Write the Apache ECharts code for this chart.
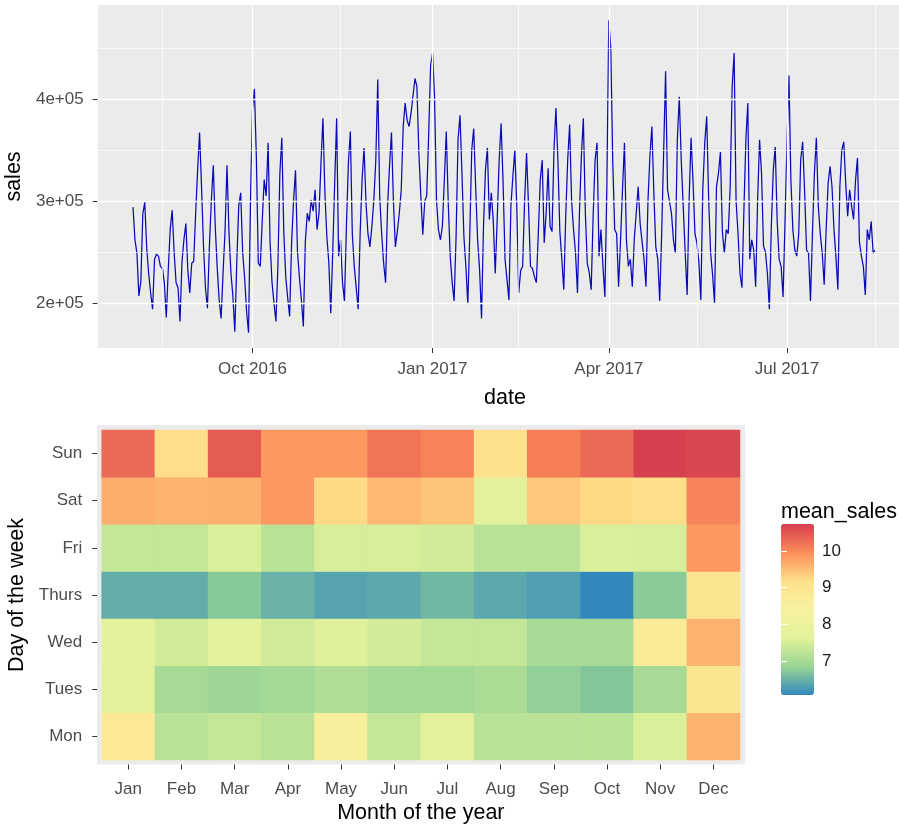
<!DOCTYPE html>
<html><head><meta charset="utf-8">
<script src="https://cdn.jsdelivr.net/npm/echarts@6/dist/echarts.min.js"></script>
<style>html,body{margin:0;padding:0;background:#fff}#c{width:899px;height:824px}</style>
</head><body><div id="c"></div>
<script>
// ---------- line chart data (daily sales, thousands) ----------
const startDate = '2016-08-01';
const salesK = [
 294,262,249,207,221,287,299,
 254,229,210,194,243,248,246,
 236,234,220,186,232,272,291,
 250,220,215,182,240,262,278,
 232,210,239,241,288,330,367,
 314,256,215,195,255,300,335,
 275,235,203,185,230,270,335,
 270,230,207,172,240,295,308,
 250,225,192,171,300,389,410,
 343,239,236,280,321,305,357,
 260,220,200,182,236,327,362,
 270,226,205,187,259,300,330,
 250,225,203,177,260,288,280,
 301,290,311,272,288,337,381,
 308,265,240,190,250,317,381,
 246,262,220,202,275,337,368,
 268,236,236,194,268,321,352,
 298,268,255,275,301,340,419,
 304,268,239,220,294,334,367,
 300,255,270,288,311,373,396,
 379,373,386,385,420,412,347,
 305,267,300,305,365,433,445,
 402,301,272,262,275,320,368,
 298,246,220,202,265,360,384,
 327,265,236,199,268,350,371,
 314,262,233,185,275,330,352,
 282,308,280,229,282,340,376,
 319,243,223,203,295,324,350,
 295,210,232,236,300,347,295,
 236,234,226,220,268,321,340,
 259,288,332,275,270,350,391,
 340,270,243,213,285,340,375,
 300,272,249,210,288,344,381,
 290,239,230,213,285,340,357,
 246,272,236,206,314,477,450,
 340,272,268,216,262,311,357,
 262,236,243,216,262,288,314,
 278,260,243,216,300,344,373,
 308,255,243,202,268,347,427,
 311,311,288,262,249,360,402,
 340,295,250,208,300,362,320,
 268,259,240,203,311,357,383,
 301,249,228,200,314,327,348,
 270,249,272,268,314,412,445,
 300,268,229,215,291,360,396,
 243,262,252,216,301,360,327,
 256,250,229,194,275,330,353,
 280,243,236,206,280,357,423,
 320,272,252,246,268,340,358,
 310,252,249,202,268,327,362,
 295,268,249,218,272,317,334,
 314,272,245,213,314,350,358,
 317,285,311,295,282,320,342,
 260,246,236,208,272,262,280,
 249,252
];
const dateTicks = ['2016-10-01','2017-01-01','2017-04-01','2017-07-01'];
const dateTickLabels = ['Oct 2016','Jan 2017','Apr 2017','Jul 2017'];
const dateMinorLines = ['2016-08-16','2016-11-15','2017-02-14','2017-05-16','2017-08-15'];
const salesTicks = [200000,300000,400000];
const salesTickLabels = ['2e+05','3e+05','4e+05'];
const salesMinorLines = [250000,350000,450000];

// ---------- heatmap data (mean_sales) ----------
const months = ['Jan','Feb','Mar','Apr','May','Jun','Jul','Aug','Sep','Oct','Nov','Dec'];
const weekDays = ['Mon','Tues','Wed','Thurs','Fri','Sat','Sun'];
const meanMon   = [8.8, 7.2, 7.3, 7.2, 8.55,7.3, 7.65,7.2, 7.2, 7.2, 7.55,9.6];
const meanTues  = [7.65,7.0, 6.9, 6.95,7.1, 6.95,6.95,7.05,6.8, 6.7, 7.0, 8.95];
const meanWed   = [7.7, 7.45,7.65,7.45,7.6, 7.45,7.3, 7.3, 7.0, 7.0, 8.7, 9.6];
const meanThurs = [6.45,6.45,6.72,6.5, 6.35,6.4, 6.55,6.4, 6.3, 6.08,6.75,8.95];
const meanFri   = [7.3, 7.3, 7.55,7.2, 7.5, 7.5, 7.45,7.2, 7.2, 7.55,7.5, 9.85];
const meanSat   = [9.65,9.6, 9.62,9.85,9.25,9.55,9.45,7.65,9.4, 9.25,9.2, 10.05];
const meanSun   = [10.3,9.2, 10.45,9.85,9.85,10.2,10.05,9.15,10.1,10.3,10.7,10.65];
const colorMin = 6.08, colorMax = 10.73;
const legendTicks = [7,8,9,10];
const spectral = ['#3288BD','#99D594','#E2F29A','#F7F2A0','#FEE08B','#FC8D59','#D53E4F'];

const DAY = 86400000;
const t0 = Date.parse(startDate);
const FONT = 'Liberation Sans, Arial, sans-serif';
const lineData = salesK.map((v,i) => [t0 + i*DAY, v*1000]);
const tickTs = dateTicks.map(d => Date.parse(d));
const rows = [meanMon, meanTues, meanWed, meanThurs, meanFri, meanSat, meanSun];
const heatData = [];
rows.forEach((r, ri) => r.forEach((v, mi) => heatData.push([mi, ri, v])));

const gridLines = [];
tickTs.forEach(t => gridLines.push({xAxis: t, lineStyle:{color:'#fff', width:1.3, type:'solid'}}));
dateMinorLines.forEach(d => gridLines.push({xAxis: Date.parse(d), lineStyle:{color:'#fff', width:0.7, type:'solid'}}));
salesTicks.forEach(v => gridLines.push({yAxis: v, lineStyle:{color:'#fff', width:1.3, type:'solid'}}));
salesMinorLines.forEach(v => gridLines.push({yAxis: v, lineStyle:{color:'#fff', width:0.7, type:'solid'}}));

const tickStyle = {color:'#333333', width:1};
const labStyle = {color:'#4D4D4D', fontSize:17, fontFamily:FONT};
const nameStyle = {color:'#000', fontSize:21.5, fontFamily:FONT};

const chart = echarts.init(document.getElementById('c'), null, {renderer:'canvas'});
chart.setOption({
  animation: false,
  backgroundColor: '#fff',
  title: {text:'mean_sales', left:781, top:501, padding:0,
          textStyle:{fontSize:21.5, fontWeight:'normal', color:'#000', fontFamily:FONT}},
  grid: [
    {left:97.7, top:5, width:814.5, height:343, show:true, backgroundColor:'#EBEBEB', borderWidth:0,
     containLabel:false, outerBoundsMode:'none'},
    {left:101.7, top:430, width:638.3, height:330, containLabel:false, outerBoundsMode:'none'},
    {left:97, top:425, width:648, height:339.5, show:true, backgroundColor:'#EBEBEB', borderWidth:0,
     containLabel:false, outerBoundsMode:'none'},
    {left:781, top:524, width:33, height:171, containLabel:false, outerBoundsMode:'none'}
  ],
  xAxis: [
    {type:'value', gridIndex:0, min: t0 - 18.03*DAY, max: t0 + 397.95*DAY,
     axisLine:{show:false}, splitLine:{show:false},
     axisTick:{show:true, customValues:tickTs, length:5, lineStyle:tickStyle},
     axisLabel:Object.assign({customValues:tickTs, margin:12.5,
       formatter: v => dateTickLabels[tickTs.indexOf(v)]}, labStyle),
     name:'date', nameLocation:'middle', nameGap:39, nameTextStyle:nameStyle},
    {type:'category', gridIndex:1, data:months, offset:4.5,
     axisLine:{show:false}, splitLine:{show:false},
     axisTick:{show:true, alignWithLabel:true, length:5, lineStyle:tickStyle},
     axisLabel:Object.assign({margin:16}, labStyle),
     name:'Month of the year', nameLocation:'middle', nameGap:38, nameTextStyle:nameStyle},
    {type:'value', gridIndex:2, show:false, min:0, max:1},
    {type:'value', gridIndex:3, show:false, min:0, max:1}
  ],
  yAxis: [
    {type:'value', gridIndex:0, min:156000, max:492000,
     axisLine:{show:false}, splitLine:{show:false},
     axisTick:{show:true, customValues:salesTicks, length:5, lineStyle:tickStyle},
     axisLabel:Object.assign({customValues:salesTicks, margin:14,
       formatter: v => salesTickLabels[salesTicks.indexOf(v)]}, labStyle),
     name:'sales', nameLocation:'middle', nameGap:64, nameTextStyle:nameStyle},
    {type:'category', gridIndex:1, data:weekDays, offset:4.5,
     axisLine:{show:false}, splitLine:{show:false},
     axisTick:{show:true, alignWithLabel:true, length:5, lineStyle:tickStyle},
     axisLabel:Object.assign({margin:15}, labStyle),
     name:'Day of the week', nameLocation:'middle', nameGap:63, nameTextStyle:nameStyle},
    {type:'value', gridIndex:2, show:false, min:0, max:1},
    {type:'value', gridIndex:3, position:'right', min:colorMin, max:colorMax, z:10,
     axisLine:{show:false}, splitLine:{show:false},
     axisTick:{show:true, inside:true, customValues:legendTicks, length:6, lineStyle:{color:'#fff', width:1.2}},
     axisLabel:{customValues:legendTicks, margin:8, color:'#1a1a1a', fontSize:17, fontFamily:FONT}},
    {type:'value', gridIndex:3, position:'left', min:colorMin, max:colorMax, z:10,
     axisLine:{show:false}, splitLine:{show:false}, axisLabel:{show:false},
     axisTick:{show:true, inside:true, customValues:legendTicks, length:6, lineStyle:{color:'#fff', width:1.2}}}
  ],
  visualMap: {
    type:'continuous', seriesIndex:2, dimension:2, min:colorMin, max:colorMax,
    inRange:{color:spectral}, calculable:false, orient:'vertical',
    left:781, top:524, itemWidth:33, itemHeight:171, padding:0, text:null,
    textStyle:{fontSize:0}
  },
  series: [
    {type:'line', xAxisIndex:0, yAxisIndex:0, data:[], z:1, silent:true,
     markLine:{silent:true, symbol:['none','none'], label:{show:false}, animation:false, data:gridLines}},
    {type:'line', xAxisIndex:0, yAxisIndex:0, data:lineData, showSymbol:false, z:3,
     lineStyle:{color:'#0A0AB8', width:1.25}, silent:true},
    {type:'heatmap', xAxisIndex:1, yAxisIndex:1, data:heatData, z:2, silent:true,
     itemStyle:{borderWidth:0}}
  ]
});
</script></body></html>
